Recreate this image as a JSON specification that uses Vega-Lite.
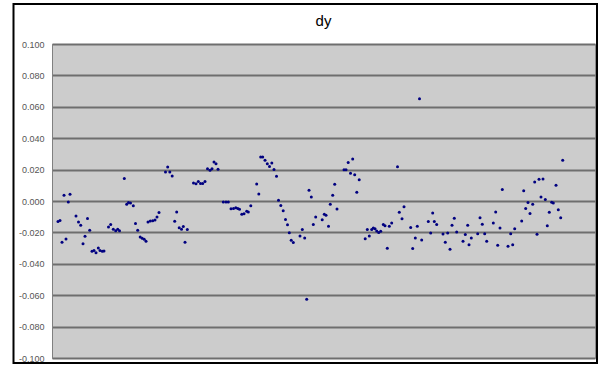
{
  "$schema": "https://vega.github.io/schema/vega-lite/v6.json",
  "width": 543,
  "height": 314,
  "autosize": {"type": "none"},
  "padding": {"left": 52, "top": 44, "right": 7, "bottom": 9},
  "background": "white",
  "title": {"text": "dy", "anchor": "middle", "frame": "group", "font": "Liberation Sans", "fontSize": 15, "fontWeight": "normal", "color": "#000000", "offset": -26},
  "config": {
    "view": {"fill": "#cccccc", "stroke": "#8c8c8c", "strokeWidth": 1},
    "axisY": {
      "title": null,
      "labelOverlap": false,
      "labelFont": "Liberation Sans",
      "labelFontSize": 9,
      "labelColor": "#555555",
      "labelPadding": 8,
      "ticks": false,
      "domainColor": "#808080",
      "domainWidth": 1,
      "grid": true,
      "gridColor": "#6e6e6e",
      "gridWidth": 2,
      "gridOpacity": 1
    }
  },
  "layer": [
    {
      "data": {"values": [{"frame": "chart"}]},
      "mark": {"type": "rect", "fill": "transparent", "stroke": "#000000", "strokeWidth": 2, "clip": false},
      "encoding": {
        "x": {"datum": -19.25, "type": "quantitative", "scale": {"domain": [0, 271.5], "nice": false, "zero": false}, "axis": null},
        "x2": {"datum": 272.5},
        "y": {
          "datum": 0.1255, "type": "quantitative",
          "scale": {"domain": [-0.1, 0.1], "nice": false, "zero": false},
          "axis": {
            "values": [-0.1, -0.08, -0.06, -0.04, -0.02, 0, 0.02, 0.04, 0.06, 0.08, 0.1],
            "labelExpr": "replace(format(datum.value, '.3f'), '\u2212', '-')"
          }
        },
        "y2": {"datum": -0.1032}
      }
    },
    {
      "data": {"values": [
        {"n": 3, "dy": -0.0130}, {"n": 4, "dy": -0.0124}, {"n": 5, "dy": -0.0263}, {"n": 6, "dy": 0.0036},
        {"n": 7, "dy": -0.0242}, {"n": 8.15, "dy": -0.0006}, {"n": 9, "dy": 0.0043}, {"n": 12, "dy": -0.0096},
        {"n": 13.25, "dy": -0.0134}, {"n": 14.35, "dy": -0.0155}, {"n": 15.5, "dy": -0.0272}, {"n": 16.5, "dy": -0.0225},
        {"n": 17.75, "dy": -0.0112}, {"n": 18.85, "dy": -0.0187}, {"n": 20, "dy": -0.0320}, {"n": 21, "dy": -0.0315},
        {"n": 22, "dy": -0.0330}, {"n": 23.15, "dy": -0.0300}, {"n": 24, "dy": -0.0315}, {"n": 25.15, "dy": -0.0320},
        {"n": 26, "dy": -0.0318}, {"n": 28.25, "dy": -0.0165}, {"n": 29.35, "dy": -0.0150}, {"n": 30.65, "dy": -0.0180},
        {"n": 31.85, "dy": -0.0190}, {"n": 32.85, "dy": -0.0180}, {"n": 33.75, "dy": -0.0190}, {"n": 36.15, "dy": 0.0143},
        {"n": 37.35, "dy": -0.0021}, {"n": 38.25, "dy": -0.0010}, {"n": 39.25, "dy": -0.0013}, {"n": 40.65, "dy": -0.0030},
        {"n": 41.75, "dy": -0.0144}, {"n": 42.85, "dy": -0.0187}, {"n": 44.1, "dy": -0.0230}, {"n": 45.1, "dy": -0.0238},
        {"n": 46.1, "dy": -0.0244}, {"n": 47, "dy": -0.0257}, {"n": 48, "dy": -0.0134}, {"n": 49.15, "dy": -0.0128},
        {"n": 50.35, "dy": -0.0125}, {"n": 51.5, "dy": -0.0121}, {"n": 52.5, "dy": -0.0102}, {"n": 53.5, "dy": -0.0074},
        {"n": 56.75, "dy": 0.0185}, {"n": 57.85, "dy": 0.0216}, {"n": 58.9, "dy": 0.0185}, {"n": 60.1, "dy": 0.0160},
        {"n": 61.35, "dy": -0.0129}, {"n": 62.35, "dy": -0.0070}, {"n": 63.6, "dy": -0.0170}, {"n": 64.75, "dy": -0.0180},
        {"n": 65.65, "dy": -0.0163}, {"n": 66.5, "dy": -0.0263}, {"n": 67.65, "dy": -0.0182}, {"n": 70.75, "dy": 0.0114},
        {"n": 72, "dy": 0.0110}, {"n": 73.15, "dy": 0.0124}, {"n": 74.25, "dy": 0.0111}, {"n": 75.35, "dy": 0.0111},
        {"n": 76.5, "dy": 0.0125}, {"n": 77.75, "dy": 0.0206}, {"n": 79, "dy": 0.0196}, {"n": 80, "dy": 0.0206},
        {"n": 81, "dy": 0.0248}, {"n": 82, "dy": 0.0238}, {"n": 83, "dy": 0.0202}, {"n": 85.65, "dy": -0.0006},
        {"n": 87, "dy": -0.0006}, {"n": 88.15, "dy": -0.0006}, {"n": 89.5, "dy": -0.0050}, {"n": 90.75, "dy": -0.0048},
        {"n": 91.9, "dy": -0.0043}, {"n": 92.9, "dy": -0.0048}, {"n": 93.75, "dy": -0.0052}, {"n": 94.9, "dy": -0.0084},
        {"n": 96, "dy": -0.0082}, {"n": 97.35, "dy": -0.0066}, {"n": 98.15, "dy": -0.0070}, {"n": 99.4, "dy": -0.0030},
        {"n": 102.35, "dy": 0.0108}, {"n": 103.4, "dy": 0.0045}, {"n": 104.35, "dy": 0.0280}, {"n": 105.35, "dy": 0.0280},
        {"n": 106.5, "dy": 0.0259}, {"n": 107.65, "dy": 0.0238}, {"n": 108.75, "dy": 0.0220}, {"n": 109.9, "dy": 0.0242},
        {"n": 111, "dy": 0.0200}, {"n": 112.25, "dy": 0.0157}, {"n": 113.25, "dy": 0.0005}, {"n": 114.4, "dy": -0.0029},
        {"n": 115.6, "dy": -0.0062}, {"n": 116.75, "dy": -0.0118}, {"n": 117.75, "dy": -0.0152}, {"n": 118.65, "dy": -0.0203},
        {"n": 119.6, "dy": -0.0250}, {"n": 120.65, "dy": -0.0264}, {"n": 124, "dy": -0.0223}, {"n": 125.15, "dy": -0.0182},
        {"n": 126.35, "dy": -0.0235}, {"n": 127.35, "dy": -0.0626}, {"n": 128.5, "dy": 0.0068}, {"n": 129.65, "dy": 0.0025},
        {"n": 130.65, "dy": -0.0150}, {"n": 131.85, "dy": -0.0102}, {"n": 135.1, "dy": -0.0120}, {"n": 136.15, "dy": -0.0085},
        {"n": 137, "dy": -0.0091}, {"n": 138.25, "dy": -0.0161}, {"n": 139.15, "dy": -0.0021}, {"n": 140.35, "dy": 0.0036},
        {"n": 141.35, "dy": 0.0107}, {"n": 142.5, "dy": -0.0051}, {"n": 146, "dy": 0.0199}, {"n": 147, "dy": 0.0199},
        {"n": 148.1, "dy": 0.0245}, {"n": 149.25, "dy": 0.0176}, {"n": 150.35, "dy": 0.0267}, {"n": 151.35, "dy": 0.0167},
        {"n": 152.4, "dy": 0.0055}, {"n": 153.6, "dy": 0.0136}, {"n": 156.6, "dy": -0.0241}, {"n": 157.65, "dy": -0.0182},
        {"n": 158.65, "dy": -0.0223}, {"n": 159.85, "dy": -0.0182}, {"n": 160.65, "dy": -0.0172}, {"n": 161.5, "dy": -0.0176},
        {"n": 162.35, "dy": -0.0191}, {"n": 163.35, "dy": -0.0201}, {"n": 164.35, "dy": -0.0193}, {"n": 165.65, "dy": -0.0150},
        {"n": 166.5, "dy": -0.0157}, {"n": 167.65, "dy": -0.0301}, {"n": 168.65, "dy": -0.0161}, {"n": 169.85, "dy": -0.0140},
        {"n": 172.75, "dy": 0.0218}, {"n": 173.65, "dy": -0.0071}, {"n": 175, "dy": -0.0113}, {"n": 176, "dy": -0.0036},
        {"n": 179.35, "dy": -0.0169}, {"n": 180.35, "dy": -0.0303}, {"n": 181.65, "dy": -0.0236}, {"n": 182.65, "dy": -0.0161},
        {"n": 183.75, "dy": 0.0652}, {"n": 184.85, "dy": -0.0248}, {"n": 188.15, "dy": -0.0131}, {"n": 189.35, "dy": -0.0204},
        {"n": 190.35, "dy": -0.0076}, {"n": 191.15, "dy": -0.0131}, {"n": 192.35, "dy": -0.0150}, {"n": 195.5, "dy": -0.0210},
        {"n": 196.65, "dy": -0.0263}, {"n": 197.85, "dy": -0.0204}, {"n": 199, "dy": -0.0308}, {"n": 200, "dy": -0.0155},
        {"n": 201.15, "dy": -0.0110}, {"n": 202.35, "dy": -0.0197}, {"n": 205.5, "dy": -0.0257}, {"n": 206.65, "dy": -0.0214},
        {"n": 207.85, "dy": -0.0155}, {"n": 208.5, "dy": -0.0278}, {"n": 209.65, "dy": -0.0236}, {"n": 212.85, "dy": -0.0208},
        {"n": 214, "dy": -0.0106}, {"n": 215.15, "dy": -0.0148}, {"n": 216.35, "dy": -0.0208}, {"n": 217.35, "dy": -0.0257},
        {"n": 220.65, "dy": -0.0140}, {"n": 221.85, "dy": -0.0070}, {"n": 222.85, "dy": -0.0282}, {"n": 224, "dy": -0.0172},
        {"n": 225.15, "dy": 0.0073}, {"n": 228, "dy": -0.0289}, {"n": 229.35, "dy": -0.0208}, {"n": 230.35, "dy": -0.0278},
        {"n": 231.35, "dy": -0.0176}, {"n": 234.85, "dy": -0.0127}, {"n": 235.85, "dy": 0.0066}, {"n": 236.85, "dy": -0.0048},
        {"n": 238, "dy": -0.0010}, {"n": 239, "dy": -0.0080}, {"n": 240.35, "dy": -0.0021}, {"n": 241.35, "dy": 0.0121},
        {"n": 242.5, "dy": -0.0212}, {"n": 243.5, "dy": 0.0138}, {"n": 244.5, "dy": 0.0025}, {"n": 245.5, "dy": 0.0140},
        {"n": 246.65, "dy": 0.0009}, {"n": 247.65, "dy": -0.0157}, {"n": 248.65, "dy": -0.0072}, {"n": 249.85, "dy": -0.0008},
        {"n": 250.65, "dy": -0.0013}, {"n": 252, "dy": 0.0100}, {"n": 253.15, "dy": -0.0055}, {"n": 254.35, "dy": -0.0106},
        {"n": 255.35, "dy": 0.0259}
      ]},
      "mark": {"type": "circle", "size": 9, "color": "#000080", "opacity": 1},
      "encoding": {
        "x": {"field": "n", "type": "quantitative", "scale": {"domain": [0, 271.5], "nice": false, "zero": false}, "axis": null},
        "y": {
          "field": "dy", "type": "quantitative",
          "scale": {"domain": [-0.1, 0.1], "nice": false, "zero": false},
          "axis": {
            "values": [-0.1, -0.08, -0.06, -0.04, -0.02, 0, 0.02, 0.04, 0.06, 0.08, 0.1],
            "labelExpr": "replace(format(datum.value, '.3f'), '\u2212', '-')"
          }
        }
      }
    }
  ]
}
